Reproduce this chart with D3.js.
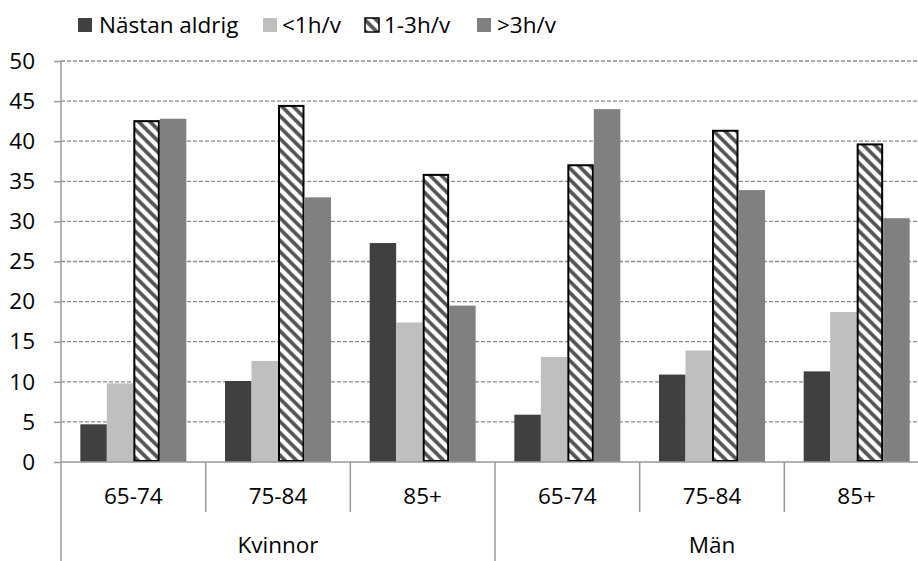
<!DOCTYPE html>
<html><head><meta charset="utf-8">
<script src="https://cdn.jsdelivr.net/npm/d3@7"></script>
<style>body{margin:0;background:#fff}svg{display:block}text{font-family:"Open Sans",sans-serif;fill:#000}</style>
</head><body><svg id="c" width="918" height="561"></svg>
<script>
const genders = ["Kvinnor", "Män"];
const ages = ["65-74", "75-84", "85+"];
const series = ["Nästan aldrig", "<1h/v", "1-3h/v", ">3h/v"];
const nastanAldrig = [4.7, 10.1, 27.3, 5.9, 10.9, 11.3];
const under1 = [9.8, 12.6, 17.4, 13.1, 13.9, 18.7];
const h1to3 = [42.5, 44.4, 35.8, 37.0, 41.3, 39.6];
const over3 = [42.8, 33.0, 19.5, 44.0, 33.9, 30.4];
const yTicks = [0, 5, 10, 15, 20, 25, 30, 35, 40, 45, 50];

const seriesValues = [nastanAldrig, under1, h1to3, over3];
const groups = [];
genders.forEach(g => ages.forEach(a => groups.push({gender: g, age: a, key: g + "|" + a})));

const svg = d3.select("#c");
const pLeft = 61, pRight = 929, pTop = 61, pBottom = 462;
const fontSize = 22.5;

const defs = svg.append("defs");
const pat = defs.append("pattern").attr("id", "hatch").attr("patternUnits", "userSpaceOnUse")
  .attr("width", 8).attr("height", 8).attr("patternTransform", "rotate(45)");
pat.append("rect").attr("width", 8).attr("height", 8).attr("fill", "#fff");
pat.append("rect").attr("width", 8).attr("height", 3.6).attr("y", 2.2).attr("fill", "#505050");

const colors = ["#404040", "#bfbfbf", "url(#hatch)", "#808080"];

const y = d3.scaleLinear().domain([0, 50]).range([pBottom, pTop]);
const x0 = d3.scaleBand().domain(groups.map(d => d.key)).range([pLeft, pRight]);
const x1 = d3.scaleBand().domain(series).range([0, x0.bandwidth()]).paddingOuter(0.73);

// gridlines
svg.append("g").selectAll("line").data(yTicks.filter(t => t > 0)).join("line")
  .attr("x1", pLeft).attr("x2", 918).attr("y1", d => y(d)).attr("y2", d => y(d))
  .attr("stroke", "#8a8a8a").attr("stroke-width", 1.3).attr("stroke-dasharray", "4,2");

// bars
series.forEach((s, si) => {
  svg.append("g").selectAll("rect").data(groups).join("rect")
    .attr("x", d => x0(d.key) + x1(s) + (si === 2 ? 1 : 0))
    .attr("width", x1.bandwidth() - (si === 2 ? 2 : 0))
    .attr("y", (d, i) => y(seriesValues[si][i]))
    .attr("height", (d, i) => pBottom - y(seriesValues[si][i]) - (si === 2 ? 1 : 0))
    .attr("fill", colors[si])
    .attr("stroke", si === 2 ? "#000" : "none").attr("stroke-width", 2);
});

// y axis
const yAxis = svg.append("g").attr("transform", `translate(${pLeft},0)`)
  .call(d3.axisLeft(y).tickValues(yTicks).tickSize(7).tickPadding(19));
yAxis.select(".domain").remove();
yAxis.selectAll(".tick line").attr("stroke", "#999").attr("stroke-width", 1.5);
yAxis.selectAll(".tick text").attr("font-family", "Open Sans").attr("font-size", fontSize)
  .attr("fill", "#000");
svg.append("line").attr("x1", pLeft).attr("x2", pLeft).attr("y1", pTop).attr("y2", 561)
  .attr("stroke", "#999").attr("stroke-width", 1.5);
svg.append("line").attr("x1", pLeft).attr("x2", 918).attr("y1", pBottom).attr("y2", pBottom)
  .attr("stroke", "#999").attr("stroke-width", 1.5);

// category dividers
groups.forEach((g, i) => {
  if (i === 0) return;
  const xx = x0(g.key);
  const long = ages.indexOf(g.age) === 0;
  svg.append("line").attr("x1", xx).attr("x2", xx).attr("y1", pBottom).attr("y2", long ? 561 : 512)
    .attr("stroke", "#999").attr("stroke-width", 1.5);
});

// age labels
svg.append("g").selectAll("text").data(groups).join("text")
  .attr("x", d => x0(d.key) + x0.bandwidth() / 2).attr("y", 504)
  .attr("text-anchor", "middle").attr("font-size", fontSize).text(d => d.age);
// gender labels
svg.append("g").selectAll("text").data(genders).join("text")
  .attr("x", d => {
    const ks = groups.filter(g => g.gender === d).map(g => x0(g.key));
    return (d3.min(ks) + d3.max(ks) + x0.bandwidth()) / 2;
  }).attr("y", 553).attr("text-anchor", "middle").attr("font-size", fontSize).text(d => d);

// legend
const legendX = [78, 263, 365, 477];
const legendTextX = [99, 282, 384, 497];
const lg = svg.append("g");
series.forEach((s, i) => {
  lg.append("rect").attr("x", legendX[i]).attr("y", 18).attr("width", 14).attr("height", 14)
    .attr("fill", colors[i]).attr("stroke", i === 2 ? "#000" : "none").attr("stroke-width", 1.5);
  lg.append("text").attr("x", legendTextX[i]).attr("y", 33).attr("font-size", fontSize).text(s);
});
</script></body></html>
